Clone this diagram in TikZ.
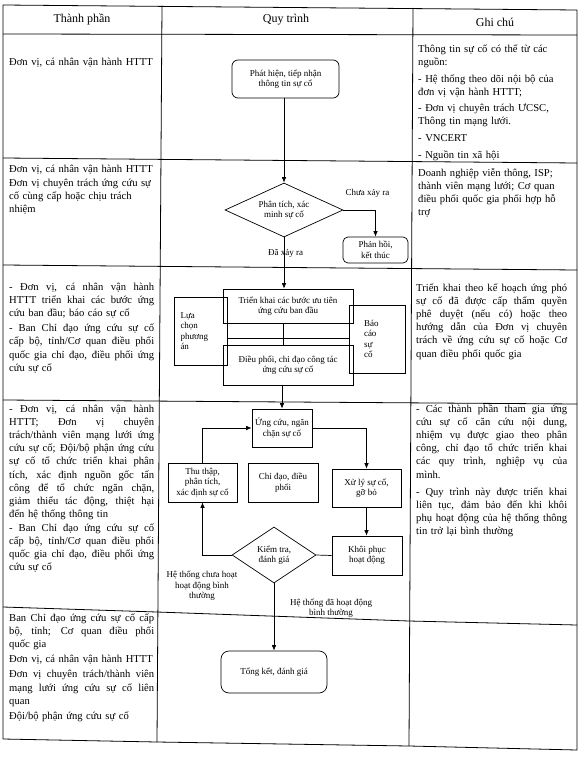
\documentclass[tikz,border=0pt]{standalone}
\usepackage{fontspec}
\setmainfont{Liberation Serif}
\usetikzlibrary{shapes.geometric,arrows.meta}
\newlength\lwL \setlength\lwL{145pt}
\newlength\lwR \setlength\lwR{151pt}
\newcommand\jL[1]{\makebox[\lwL][s]{\spaceskip=0pt\xspaceskip=0pt\relax #1}}
\newcommand\jR[1]{\makebox[\lwR][s]{\spaceskip=0pt\xspaceskip=0pt\relax #1}}
\newcommand\fsmall{\fontsize{9}{10.5}\selectfont}
\newcommand\fbody{\fontsize{10.6}{13.1}\selectfont}
\newcommand\fhead{\fontsize{12}{14}\selectfont}
\begin{document}
\begin{tikzpicture}[x=1pt,y=-1pt,
  tline/.style={line width=0.8pt, line join=round},
  fline/.style={line width=0.7pt},
  arr/.style={fline,-{Latex[length=5.5pt,width=4.5pt]}},
  fbox/.style={draw, line width=0.7pt, inner sep=1pt, align=center, font=\fsmall},
  rbox/.style={fbox, rounded corners=6pt},
  dbox/.style={draw, line width=0.7pt, shape=diamond, inner sep=0pt, aspect=2, align=center, font=\fsmall},
  lab/.style={align=center, font=\fsmall, inner sep=0pt},
  cellL/.style={anchor=base west, text width=160pt, align=left, inner sep=0pt, font=\fbody},
  cellR/.style={anchor=base west, text width=165pt, align=left, inner sep=0pt, font=\fbody},
  head/.style={font=\fhead, inner sep=0pt}
]
\useasboundingbox (0,0) rectangle (582,757);
\fill[white] (0,0) rectangle (582,757);

% ---------- table grid ----------
\draw[tline] (3,5) -- (577,10) -- (577,750) -- (409,746) -- (157,742) -- (3,739) -- cycle;
\draw[tline] (162,6) -- (157,742);
\draw[tline] (413,8) -- (409,746);
\draw[tline] (3,34) -- (577,35);
\draw[tline] (3,158) -- (577,163);
\draw[tline] (3,265) -- (577,270);
\draw[tline] (3,400) -- (577,404);
\draw[tline] (3,607) -- (157,612) -- (409,621) -- (577,625);

% ---------- headers ----------
\node[head] (h1) at (82,19) {Thành phần};
\node[head] (h2) at (286,20) {Quy trình};
\node[head] (h3) at (495,22) {Ghi chú};

% ---------- left column ----------
\node[cellL] (l1) at (9,65.5) {Đơn vị, cá nhân vận hành HTTT};
\node[cellL] (l2) at (9,172.5) {Đơn vị, cá nhân vận hành HTTT\\[1pt]
Đơn vị chuyên trách ứng cứu sự\\ cố cùng cấp hoặc chịu trách\\ nhiệm};
\node[cellL] (l3) at (9,290.5) {\jL{- Đơn vị, cá nhân vận hành}\\
\jL{HTTT triển khai các bước ứng}\\
cứu ban đầu; báo cáo sự cố\\[2pt]
\jL{- Ban Chỉ đạo ứng cứu sự cố}\\
\jL{cấp bộ, tỉnh/Cơ quan điều phối}\\
\jL{quốc gia chỉ đạo, điều phối ứng}\\
cứu sự cố};
\node[cellL] (l4) at (9,412.5) {\jL{- Đơn vị, cá nhân vận hành}\\
\jL{HTTT; Đơn vị chuyên}\\
\jL{trách/thành viên mạng lưới ứng}\\
\jL{cứu sự cố; Đội/bộ phận ứng cứu}\\
\jL{sự cố tổ chức triển khai phân}\\
\jL{tích, xác định nguồn gốc tấn}\\
\jL{công để tổ chức ngăn chặn,}\\
\jL{giảm thiểu tác động, thiệt hại}\\
đến hệ thống thông tin\\[1pt]
\jL{- Ban Chỉ đạo ứng cứu sự cố}\\
\jL{cấp bộ, tỉnh/Cơ quan điều phối}\\
\jL{quốc gia chỉ đạo, điều phối ứng}\\
cứu sự cố};
\node[cellL] (l5) at (9,621.5) {\jL{Ban Chỉ đạo ứng cứu sự cố cấp}\\
\jL{bộ, tỉnh; Cơ quan điều phối}\\
quốc gia\\[2pt]
Đơn vị, cá nhân vận hành HTTT\\[2pt]
\jL{Đơn vị chuyên trách/thành viên}\\
\jL{mạng lưới ứng cứu sự cố liên}\\
quan\\[2pt]
Đội/bộ phận ứng cứu sự cố};

% ---------- right column ----------
\node[cellR] (r1) at (418,52.5) {Thông tin sự cố có thể từ các\\ nguồn:\\[3.5pt]
- Hệ thống theo dõi nội bộ của\\ đơn vị vận hành HTTT;\\[3.5pt]
- Đơn vị chuyên trách ƯCSC,\\ Thông tin mạng lưới.\\[3.5pt]
- VNCERT\\[3.5pt]
- Nguồn tin xã hội};
\node[cellR] (r2) at (418,176.5) {Doanh nghiệp viễn thông, ISP;\\
thành viên mạng lưới; Cơ quan\\
điều phối quốc gia phối hợp hỗ\\ trợ};
\node[cellR] (r3) at (416,291.5) {\jR{Triển khai theo kế hoạch ứng phó}\\
\jR{sự cố đã được cấp thẩm quyền}\\
\jR{phê duyệt (nếu có) hoặc theo}\\
\jR{hướng dẫn của Đơn vị chuyên}\\
\jR{trách về ứng cứu sự cố hoặc Cơ}\\
quan điều phối quốc gia};
\node[cellR] (r4) at (416,412.5) {\jR{- Các thành phần tham gia ứng}\\
\jR{cứu sự cố căn cứu nội dung,}\\
\jR{nhiệm vụ được giao theo phân}\\
\jR{công, chỉ đạo tổ chức triển khai}\\
\jR{các quy trình, nghiệp vụ của}\\
mình.\\[4pt]
\jR{- Quy trình này được triển khai}\\
\jR{liên tục, đảm bảo đến khi khôi}\\
\jR{phụ hoạt động của hệ thống thông}\\
tin trở lại bình thường};

% ---------- flowchart ----------
\node[rbox, minimum width=107pt, minimum height=38pt] (phathien) at (285.5,79) {Phát hiện, tiếp nhận\\thông tin sự cố};
\node[dbox, minimum width=118pt, minimum height=54pt] (phantich) at (284,210) {Phân tích, xác\\minh sự cố};
\node[rbox, rounded corners=5pt, minimum width=65pt, minimum height=26pt] (phanhoi) at (375.5,250) {Phản hồi,\\kết thúc};
\node[lab] (chua) at (367.5,193) {Chưa xảy ra};
\node[lab] (da) at (285.5,253) {Đã xảy ra};

\node[fbox, minimum width=130pt, minimum height=34pt] (trien) at (288,306) {Triển khai các bước ưu tiên\\ứng cứu ban đầu};
\node[fbox, minimum width=53pt, minimum height=68pt, text width=40pt, align=left] (luachon) at (200.5,331) {Lựa\\chọn\\phương\\án};
\node[fbox, minimum width=56pt, minimum height=68pt, text width=26pt, align=left] (baocao) at (377,339) {Báo\\cáo\\sự\\cố};
\node[fbox, minimum width=130pt, minimum height=40pt] (dieuphoi) at (288,365) {Điều phối, chỉ đạo công tác\\ứng cứu sự cố};
\coordinate (j) at (283,338);

\node[fbox, minimum width=60pt, minimum height=38pt] (ungcuu) at (282,428) {Ứng cứu, ngăn\\chặn sự cố};
\node[fbox, minimum width=69pt, minimum height=39pt] (thuthap) at (202.5,482.5) {Thu thập,\\phân tích,\\xác định sự cố};
\node[fbox, minimum width=70pt, minimum height=39pt] (chidao) at (283,482.5) {Chỉ đạo, điều\\phối};
\node[fbox, minimum width=69pt, minimum height=38pt] (xuly) at (366.5,488) {Xử lý sự cố,\\gỡ bỏ};
\node[fbox, minimum width=70pt, minimum height=39pt] (khoiphuc) at (367,555.5) {Khôi phục\\hoạt động};
\node[dbox, minimum width=84pt, minimum height=56pt] (kiemtra) at (274,555) {Kiểm tra,\\đánh giá};
\node[lab] (chuahd) at (202,586) {Hệ thống chưa hoạt\\hoạt động bình\\thường};
\node[lab] (dahd) at (331,608) {Hệ thống đã hoạt động\\bình thường};
\node[rbox, rounded corners=8pt, minimum width=106pt, minimum height=42pt] (tongket) at (274,672) {Tổng kết, đánh giá};

% connectors
\draw[arr] (phathien.south -| phantich.north) -- (phantich.north);
\draw[arr] (phantich.east) -| (phanhoi.north);
\draw[arr] (phantich.south) -- (phantich.south |- trien.north);
\draw[fline] (trien.south -| j) -- (dieuphoi.north -| j);
\draw[fline] (luachon.east |- j) -- (baocao.west |- j);
\draw[arr] (dieuphoi.south -| ungcuu.north) -- (ungcuu.north);
\draw[arr] (ungcuu.east) -| (xuly.north);
\draw[arr] (xuly.south) -- (xuly.south |- khoiphuc.north);
\draw[fline] (khoiphuc.west) -- (kiemtra.east);
\draw[arr] (kiemtra.west) -| (thuthap.south);
\draw[arr] (thuthap.north) |- (ungcuu.west);
\draw[arr] (kiemtra.south) -- (kiemtra.south |- tongket.north);
\end{tikzpicture}
\end{document}
